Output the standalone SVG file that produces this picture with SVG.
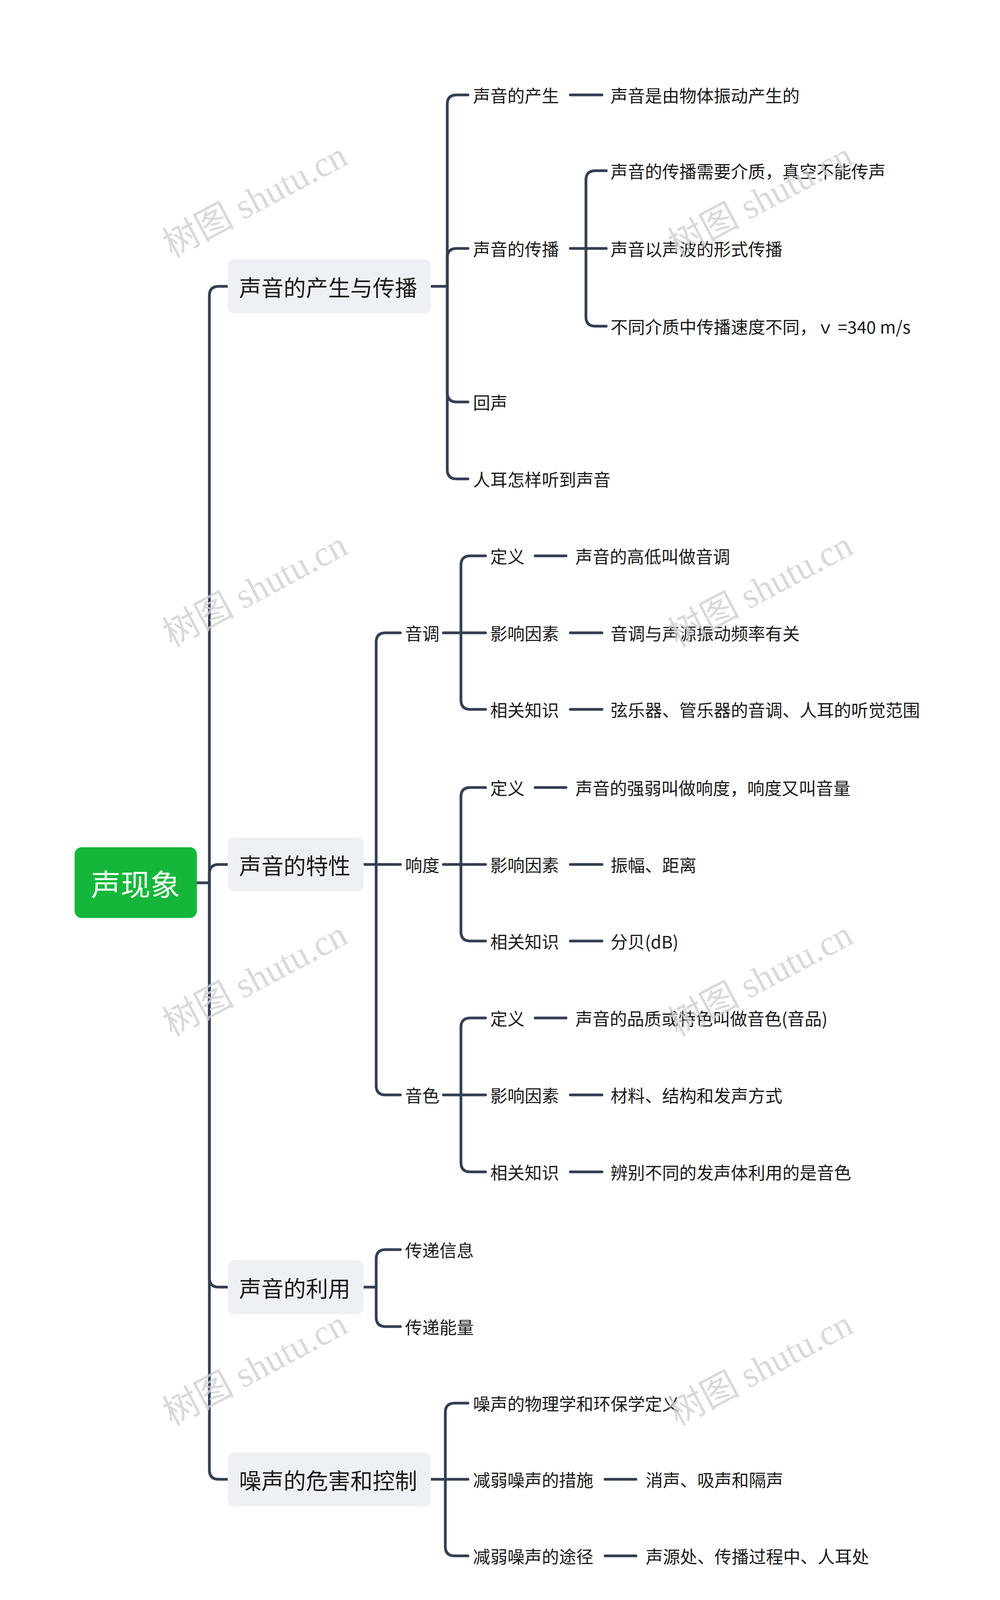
<svg xmlns="http://www.w3.org/2000/svg" width="2560" height="4224" viewBox="0 0 2560 4224">
<style>
text{font-family:"Noto Sans CJK SC","Noto Sans",sans-serif;fill:#1a1a1a;dominant-baseline:central}
.t2{font-size:44px}
.t1{font-size:57px}
.root{font-size:76px;fill:#fff}
.box{fill:#edf1f5}
.wm{font-family:"Liberation Serif","Noto Sans CJK SC",serif;font-size:92px;fill:#d0d0d0;fill-opacity:0.8}
#connectors path{fill:none;stroke:#333f52;stroke-width:7;stroke-linecap:round}
</style>
<rect width="2560" height="4224" fill="#fff"/>
<g id="connectors">
<path d="M504,2260 H536"/>
<path d="M536,2260 V757 Q536,733 560,733 H583"/>
<path d="M536,2260 V2237 Q536,2213 560,2213 H583"/>
<path d="M536,2260 V3271 Q536,3295 560,3295 H583"/>
<path d="M536,2260 V3763 Q536,3787 560,3787 H583"/>
<path d="M1103,733 H1145"/>
<path d="M1145,733 V267 Q1145,243 1169,243 H1198"/>
<path d="M1145,733 V660 Q1145,636 1169,636 H1198"/>
<path d="M1145,733 V1005 Q1145,1029 1169,1029 H1198"/>
<path d="M1145,733 V1202 Q1145,1226 1169,1226 H1198"/>
<path d="M1460,243 H1541"/>
<path d="M1460,636 H1500"/>
<path d="M1500,636 V461 Q1500,437 1524,437 H1552"/>
<path d="M1500,636 H1552"/>
<path d="M1500,636 V811 Q1500,835 1524,835 H1552"/>
<path d="M931,2213 H963"/>
<path d="M963,2213 V1644 Q963,1620 987,1620 H1025"/>
<path d="M963,2213 H1025"/>
<path d="M963,2213 V2779 Q963,2803 987,2803 H1025"/>
<path d="M1135,1620 H1180"/>
<path d="M1180,1620 V1447 Q1180,1423 1204,1423 H1243"/>
<path d="M1180,1620 H1243"/>
<path d="M1180,1620 V1792 Q1180,1816 1204,1816 H1243"/>
<path d="M1135,2213 H1180"/>
<path d="M1180,2213 V2040 Q1180,2016 1204,2016 H1243"/>
<path d="M1180,2213 H1243"/>
<path d="M1180,2213 V2385 Q1180,2409 1204,2409 H1243"/>
<path d="M1135,2803 H1180"/>
<path d="M1180,2803 V2630 Q1180,2606 1204,2606 H1243"/>
<path d="M1180,2803 H1243"/>
<path d="M1180,2803 V2976 Q1180,3000 1204,3000 H1243"/>
<path d="M1370,1423 H1449"/><path d="M1460,1620 H1541"/><path d="M1460,1816 H1541"/>
<path d="M1370,2016 H1449"/><path d="M1460,2213 H1541"/><path d="M1460,2409 H1541"/>
<path d="M1370,2606 H1449"/><path d="M1460,2803 H1541"/><path d="M1460,3000 H1541"/>
<path d="M931,3295 H963"/>
<path d="M963,3295 V3223 Q963,3199 987,3199 H1025"/>
<path d="M963,3295 V3372 Q963,3396 987,3396 H1025"/>
<path d="M1103,3787 H1140"/>
<path d="M1140,3787 V3616 Q1140,3592 1164,3592 H1198"/>
<path d="M1140,3787 H1198"/>
<path d="M1140,3787 V3959 Q1140,3983 1164,3983 H1198"/>
<path d="M1549,3787 H1628"/><path d="M1549,3983 H1628"/>
</g>
<g id="root"><rect x="191" y="2169" width="313" height="181" rx="18" fill="#15b73b"/><text class="root" x="347" y="2260" text-anchor="middle">声现象</text></g>
<g id="n1"><rect class="box" x="583" y="664" width="520" height="138" rx="16"/><text class="t1" x="612" y="733">声音的产生与传播</text></g>
<g id="n2"><rect class="box" x="583" y="2144" width="348" height="138" rx="16"/><text class="t1" x="612" y="2213">声音的特性</text></g>
<g id="n3"><rect class="box" x="583" y="3226" width="348" height="138" rx="16"/><text class="t1" x="612" y="3295">声音的利用</text></g>
<g id="n4"><rect class="box" x="583" y="3718" width="520" height="138" rx="16"/><text class="t1" x="612" y="3787">噪声的危害和控制</text></g>
<g id="n1a"><text class="t2" x="1211" y="243">声音的产生</text></g>
<g id="n1a1"><text class="t2" x="1563" y="243">声音是由物体振动产生的</text></g>
<g id="n1b"><text class="t2" x="1211" y="636">声音的传播</text></g>
<g id="n1b1"><text class="t2" x="1563" y="437">声音的传播需要介质，真空不能传声</text></g>
<g id="n1b2"><text class="t2" x="1563" y="636">声音以声波的形式传播</text></g>
<g id="n1b3"><text class="t2" x="1563" y="835">不同介质中传播速度不同，ｖ =340 m/s</text></g>
<g id="n1c"><text class="t2" x="1211" y="1029">回声</text></g>
<g id="n1d"><text class="t2" x="1211" y="1226">人耳怎样听到声音</text></g>
<g id="n2a"><text class="t2" x="1037" y="1620">音调</text></g>
<g id="n2a1"><text class="t2" x="1255" y="1423">定义</text><text class="t2" x="1473" y="1423">声音的高低叫做音调</text></g>
<g id="n2a2"><text class="t2" x="1255" y="1620">影响因素</text><text class="t2" x="1563" y="1620">音调与声源振动频率有关</text></g>
<g id="n2a3"><text class="t2" x="1255" y="1816">相关知识</text><text class="t2" x="1563" y="1816">弦乐器、管乐器的音调、人耳的听觉范围</text></g>
<g id="n2b"><text class="t2" x="1037" y="2213">响度</text></g>
<g id="n2b1"><text class="t2" x="1255" y="2016">定义</text><text class="t2" x="1473" y="2016">声音的强弱叫做响度，响度又叫音量</text></g>
<g id="n2b2"><text class="t2" x="1255" y="2213">影响因素</text><text class="t2" x="1563" y="2213">振幅、距离</text></g>
<g id="n2b3"><text class="t2" x="1255" y="2409">相关知识</text><text class="t2" x="1563" y="2409">分贝(dB)</text></g>
<g id="n2c"><text class="t2" x="1037" y="2803">音色</text></g>
<g id="n2c1"><text class="t2" x="1255" y="2606">定义</text><text class="t2" x="1473" y="2606">声音的品质或特色叫做音色(音品)</text></g>
<g id="n2c2"><text class="t2" x="1255" y="2803">影响因素</text><text class="t2" x="1563" y="2803">材料、结构和发声方式</text></g>
<g id="n2c3"><text class="t2" x="1255" y="3000">相关知识</text><text class="t2" x="1563" y="3000">辨别不同的发声体利用的是音色</text></g>
<g id="n3a"><text class="t2" x="1037" y="3199">传递信息</text></g>
<g id="n3b"><text class="t2" x="1037" y="3396">传递能量</text></g>
<g id="n4a"><text class="t2" x="1211" y="3592">噪声的物理学和环保学定义</text></g>
<g id="n4b"><text class="t2" x="1211" y="3787">减弱噪声的措施</text><text class="t2" x="1653" y="3787">消声、吸声和隔声</text></g>
<g id="n4c"><text class="t2" x="1211" y="3983">减弱噪声的途径</text><text class="t2" x="1653" y="3983">声源处、传播过程中、人耳处</text></g>
<g id="watermarks">
<text class="wm" transform="translate(653,512) rotate(-28)" text-anchor="middle">树图 shutu.cn</text>
<text class="wm" transform="translate(1947,512) rotate(-28)" text-anchor="middle">树图 shutu.cn</text>
<text class="wm" transform="translate(653,1509) rotate(-28)" text-anchor="middle">树图 shutu.cn</text>
<text class="wm" transform="translate(1947,1509) rotate(-28)" text-anchor="middle">树图 shutu.cn</text>
<text class="wm" transform="translate(653,2506) rotate(-28)" text-anchor="middle">树图 shutu.cn</text>
<text class="wm" transform="translate(1947,2506) rotate(-28)" text-anchor="middle">树图 shutu.cn</text>
<text class="wm" transform="translate(653,3503) rotate(-28)" text-anchor="middle">树图 shutu.cn</text>
<text class="wm" transform="translate(1947,3503) rotate(-28)" text-anchor="middle">树图 shutu.cn</text>
</g>
</svg>
